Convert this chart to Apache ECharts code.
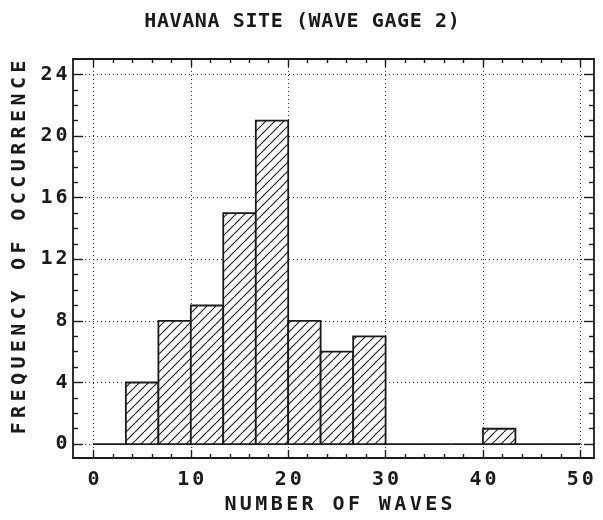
<!DOCTYPE html>
<html>
<head>
<meta charset="utf-8">
<script src="https://cdn.jsdelivr.net/npm/echarts@6/dist/echarts.min.js"></script>
<style>
  html, body { margin: 0; padding: 0; background: #fff; }
  #chart { width: 603px; height: 520px; }
</style>
</head>
<body>
<div id="chart"></div>
<script>
// Histogram of wave counts, Havana site, wave gage 2
const binEdges = [0, 3.33, 6.67, 10, 13.33, 16.67, 20, 23.33, 26.67, 30, 33.33, 36.67, 40, 43.33, 46.67, 50];
const counts   = [0, 4, 8, 9, 15, 21, 8, 6, 7, 0, 0, 0, 1, 0, 0];

const xMajorTicks = [0, 10, 20, 30, 40, 50];
const xMinorTicks = [2, 4, 6, 8, 12, 14, 16, 18, 22, 24, 26, 28, 32, 34, 36, 38, 42, 44, 46, 48];
const yMajorTicks = [0, 4, 8, 12, 16, 20, 24];
const yMinorTicks = [1, 2, 3, 5, 6, 7, 9, 10, 11, 13, 14, 15, 17, 18, 19, 21, 22, 23];

const titleText = 'HAVANA SITE (WAVE GAGE 2)';
const xName = 'NUMBER OF WAVES';
const yName = 'FREQUENCY OF OCCURRENCE';

const FONT = 'DejaVu Sans Mono';
const INK = '#1a1a1a';

// plotter-style lettering: each glyph gets its own side padding for wide spacing
function glyphStyle(size, pad) {
  return { fontFamily: FONT, fontSize: size, fontWeight: 'bold', color: INK, padding: [0, pad, 0, pad] };
}
function spaced(str) {
  return str.split('').map(ch => '{g|' + ch + '}').join('');
}

// diagonal hatch tile for the bar fill
function hatchTile() {
  const s = 9;
  const c = document.createElement('canvas');
  c.width = s; c.height = s;
  const g = c.getContext('2d');
  g.fillStyle = '#fff';
  g.fillRect(0, 0, s, s);
  g.strokeStyle = '#222';
  g.lineWidth = 1.2;
  for (const off of [-s, 0, s]) {
    g.beginPath();
    g.moveTo(off, s);
    g.lineTo(off + s, 0);
    g.stroke();
  }
  return c;
}
const hatch = { image: hatchTile(), repeat: 'repeat' };

const rows = counts.map((n, i) => [binEdges[i], binEdges[i + 1], n]);

const X_MIN = -2.1, X_MAX = 51.4, Y_MIN = -0.9, Y_MAX = 25;

const dotted = { show: true, lineStyle: { color: '#333', type: [1, 3], width: 1 } };

function xAxisDef(pos, ticks, len, main) {
  const labelled = main && pos === 'bottom';
  return {
    type: 'value', gridIndex: 0, position: pos, min: X_MIN, max: X_MAX,
    axisLine: { show: main, onZero: false, lineStyle: { color: INK, width: 1.8 } },
    axisTick: { show: true, inside: true, length: len, customValues: ticks, lineStyle: { color: INK, width: 1.4 } },
    axisLabel: labelled ? {
      show: true, margin: 12, customValues: xMajorTicks,
      formatter: v => spaced(String(v)), rich: { g: glyphStyle(20, 1.5) }
    } : { show: false },
    splitLine: labelled ? dotted : { show: false },
    name: labelled ? spaced(xName) : '',
    nameLocation: 'middle', nameGap: 37,
    nameTextStyle: { rich: { g: glyphStyle(20, 1.7) }, padding: [0, 0, 0, 10] }
  };
}
function yAxisDef(pos, ticks, len, main) {
  const labelled = main && pos === 'left';
  return {
    type: 'value', gridIndex: 0, position: pos, min: Y_MIN, max: Y_MAX,
    axisLine: { show: main, onZero: false, lineStyle: { color: INK, width: 1.8 } },
    axisTick: { show: true, inside: true, length: len, customValues: ticks, lineStyle: { color: INK, width: 1.4 } },
    axisLabel: labelled ? {
      show: true, margin: 4, customValues: yMajorTicks,
      formatter: v => spaced(String(v)), rich: { g: glyphStyle(20, 1.5) }
    } : { show: false },
    splitLine: labelled ? dotted : { show: false },
    name: labelled ? spaced(yName) : '',
    nameLocation: 'middle', nameGap: 37,
    nameTextStyle: { rich: { g: glyphStyle(20, 2.2) }, padding: [0, 0, 0, 22] }
  };
}

const chart = echarts.init(document.getElementById('chart'), null, { renderer: 'canvas' });
chart.setOption({
  backgroundColor: '#fff',
  animation: false,
  title: {
    text: spaced(titleText), left: 297, top: 7, textAlign: 'center',
    textStyle: { rich: { g: glyphStyle(20, 0.3) } }
  },
  grid: { left: 73, right: 9, top: 59, bottom: 54, containLabel: false },
  xAxis: [
    xAxisDef('bottom', xMajorTicks, 8, true),
    xAxisDef('bottom', xMinorTicks, 4, false),
    xAxisDef('top', xMajorTicks, 8, true),
    xAxisDef('top', xMinorTicks, 4, false)
  ],
  yAxis: [
    yAxisDef('left', yMajorTicks, 10, true),
    yAxisDef('left', yMinorTicks, 5, false),
    yAxisDef('right', yMajorTicks, 10, true),
    yAxisDef('right', yMinorTicks, 5, false)
  ],
  series: [{
    type: 'custom',
    xAxisIndex: 0, yAxisIndex: 0,
    data: rows,
    encode: { x: [0, 1], y: 2 },
    renderItem: function (params, api) {
      const lo = api.coord([api.value(0), 0]);
      const hi = api.coord([api.value(1), api.value(2)]);
      return {
        type: 'rect',
        shape: { x: lo[0], y: hi[1], width: hi[0] - lo[0], height: lo[1] - hi[1] },
        style: { fill: api.value(2) > 0 ? hatch : null, stroke: INK, lineWidth: 1.8 }
      };
    }
  }]
});
</script>
</body>
</html>
